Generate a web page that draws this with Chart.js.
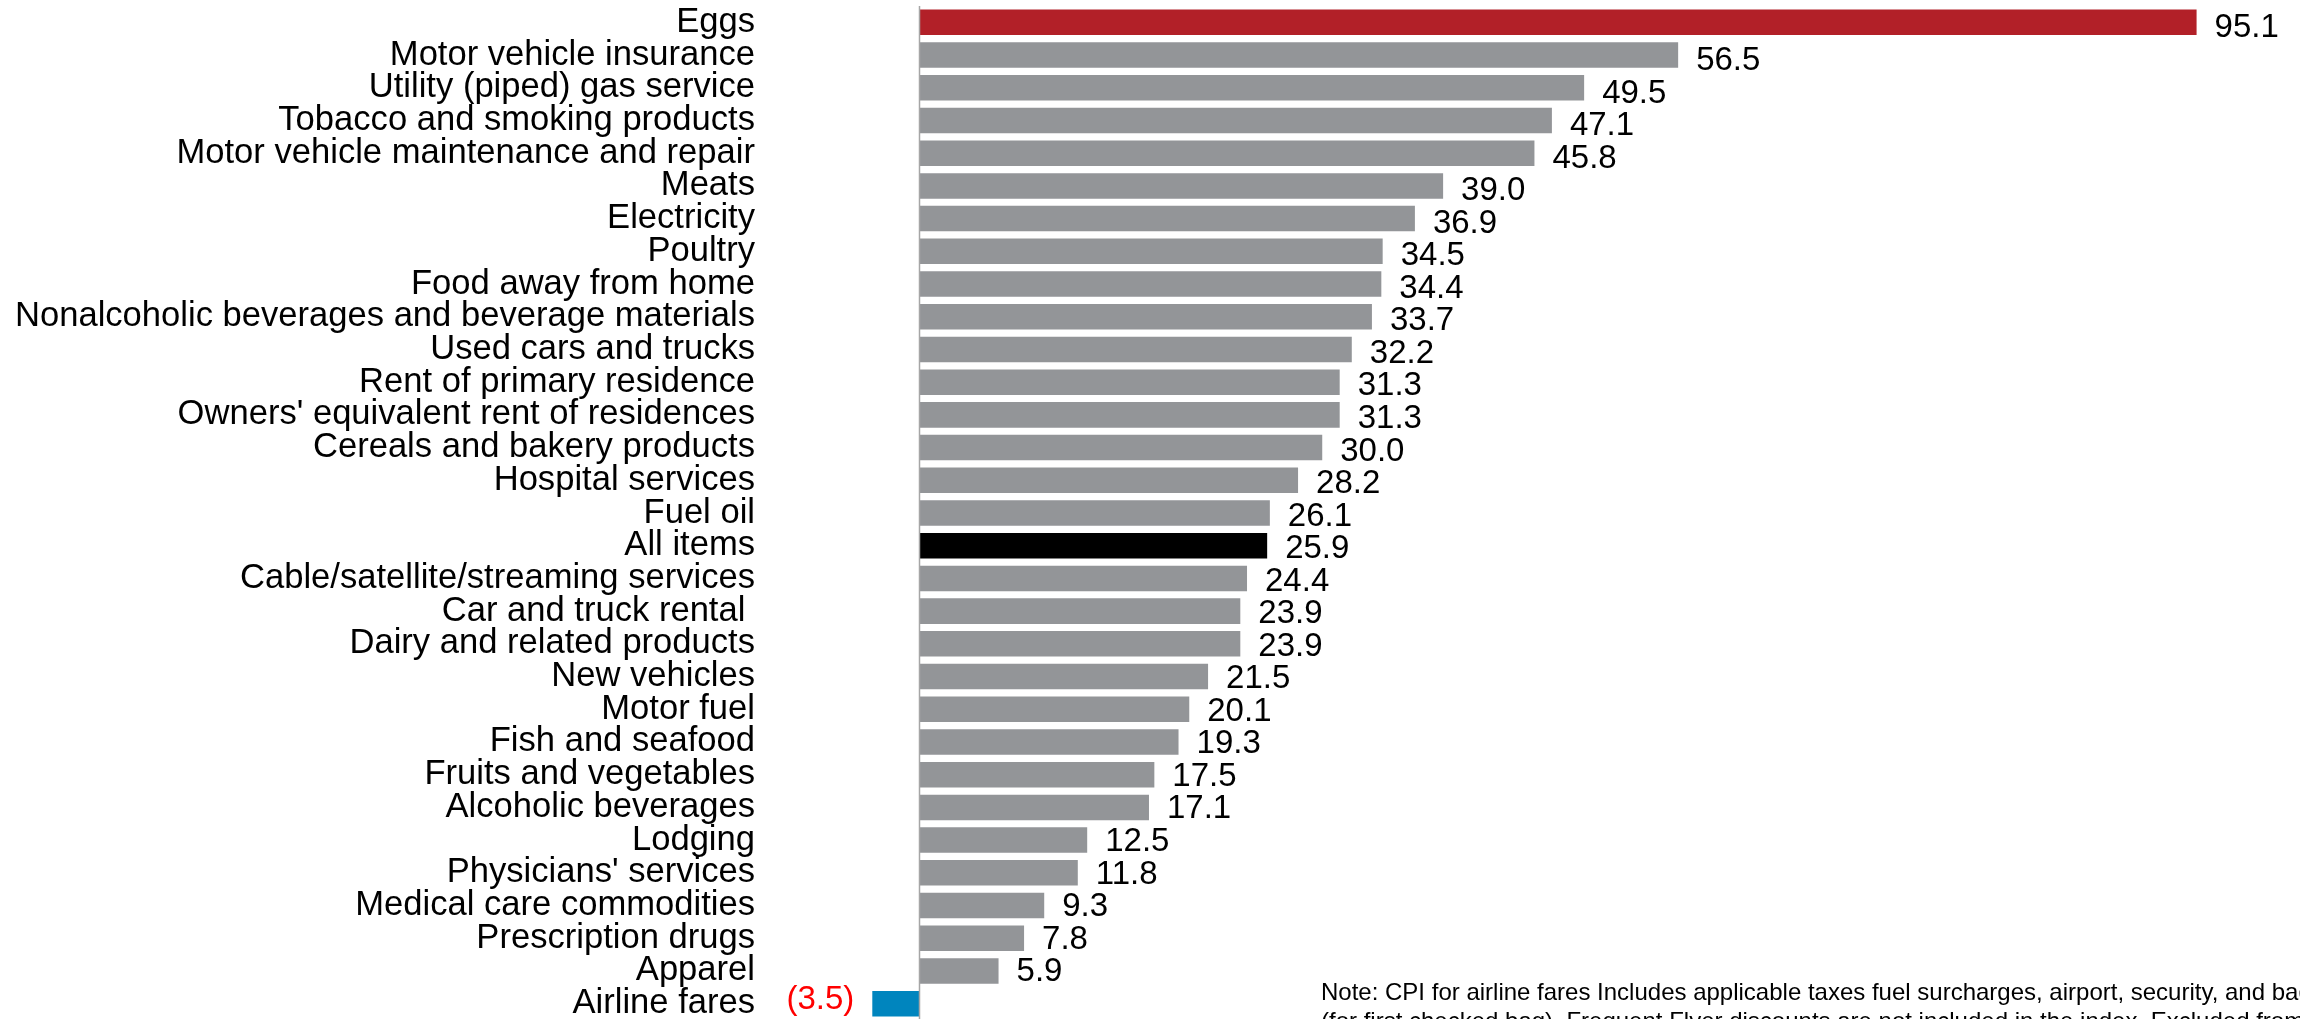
<!DOCTYPE html>
<html>
<head>
<meta charset="utf-8">
<script src="https://cdn.jsdelivr.net/npm/chart.js@4.4.1/dist/chart.umd.min.js"></script>
<style>
  html, body { margin: 0; padding: 0; background: #ffffff; overflow: hidden; }
  #wrap { position: relative; width: 2300px; height: 1020px; }
</style>
</head>
<body>
<div id="wrap"><canvas id="c"></canvas></div>
<script>
const categories = [
  "Eggs",
  "Motor vehicle insurance",
  "Utility (piped) gas service",
  "Tobacco and smoking products",
  "Motor vehicle maintenance and repair",
  "Meats",
  "Electricity",
  "Poultry",
  "Food away from home",
  "Nonalcoholic beverages and beverage materials",
  "Used cars and trucks",
  "Rent of primary residence",
  "Owners' equivalent rent of residences",
  "Cereals and bakery products",
  "Hospital services",
  "Fuel oil",
  "All items",
  "Cable/satellite/streaming services",
  "Car and truck rental ",
  "Dairy and related products",
  "New vehicles",
  "Motor fuel",
  "Fish and seafood",
  "Fruits and vegetables",
  "Alcoholic beverages",
  "Lodging",
  "Physicians' services",
  "Medical care commodities",
  "Prescription drugs",
  "Apparel",
  "Airline fares"
];
const values = [
  95.1, 56.5, 49.5, 47.1, 45.8, 39.0, 36.9, 34.5, 34.4, 33.7,
  32.2, 31.3, 31.3, 30.0, 28.2, 26.1, 25.9, 24.4, 23.9, 23.9,
  21.5, 20.1, 19.3, 17.5, 17.1, 12.5, 11.8, 9.3, 7.8, 5.9,
  -3.5
];
const noteLines = [
  "Note: CPI for airline fares Includes applicable taxes fuel surcharges, airport, security, and baggage fees",
  "(for first checked bag). Frequent Flyer discounts are not included in the index. Excluded from the analysis"
];

const FONT = "'Liberation Sans', Arial, Helvetica, sans-serif";
const highlight = { "Eggs": "#b22028", "All items": "#000000", "Airline fares": "#0085be" };
const GRAY = "#939598";

const labelPlugin = {
  id: 'labels',
  afterDatasetsDraw(chart) {
    const ctx = chart.ctx;
    const meta = chart.getDatasetMeta(0);
    const xs = chart.scales.x;
    const area = chart.chartArea;
    ctx.save();
    // zero axis line
    const x0 = Math.round(xs.getPixelForValue(0)) + 0.5;
    ctx.strokeStyle = "#a6a6a6";
    ctx.lineWidth = 1.5;
    ctx.beginPath();
    ctx.moveTo(x0, area.top);
    ctx.lineTo(x0, area.bottom + 5);
    ctx.stroke();
    // value labels
    ctx.font = "33px " + FONT;
    ctx.textBaseline = "middle";
    const n = values.length;
    meta.data.forEach((bar, i) => {
      const v = values[i];
      const dy = 6 - 5 * i / (n - 1);
      if (v >= 0) {
        ctx.fillStyle = "#000000";
        ctx.textAlign = "left";
        ctx.fillText(v.toFixed(1), bar.x + 18, bar.y + dy);
      } else {
        ctx.fillStyle = "#ff0000";
        ctx.textAlign = "right";
        ctx.fillText("(" + Math.abs(v).toFixed(1) + ")", bar.x - 18, bar.y - 4);
      }
    });
    // note
    ctx.font = "24px " + FONT;
    ctx.fillStyle = "#000000";
    ctx.textAlign = "left";
    ctx.textBaseline = "alphabetic";
    ctx.fillText(noteLines[0], 1321, 1000);
    ctx.fillText(noteLines[1], 1321, 1029);
    ctx.restore();
  }
};

new Chart(document.getElementById('c'), {
  type: 'bar',
  data: {
    labels: categories,
    datasets: [{
      data: values,
      backgroundColor: (c) => highlight[categories[c.dataIndex]] || GRAY,
      borderWidth: 0,
      barPercentage: 0.78,
      categoryPercentage: 1.0
    }]
  },
  options: {
    indexAxis: 'y',
    responsive: true,
    maintainAspectRatio: false,
    animation: false,
    layout: { padding: { top: 6, bottom: 0, left: 0, right: 0 } },
    plugins: { legend: { display: false }, tooltip: { enabled: false } },
    scales: {
      x: {
        display: false,
        min: -10,
        max: 102.8
      },
      y: {
        position: 'left',
        grid: { display: false, drawTicks: false },
        border: { display: false },
        afterFit(scale) {
          scale.width = 785;
          scale.paddingTop = 0;
          scale.paddingBottom = 0;
        },
        ticks: {
          autoSkip: false,
          padding: 30,
          color: "#000000",
          font: { family: FONT, size: 34.6 }
        }
      }
    }
  },
  plugins: [labelPlugin]
});
</script>
</body>
</html>
